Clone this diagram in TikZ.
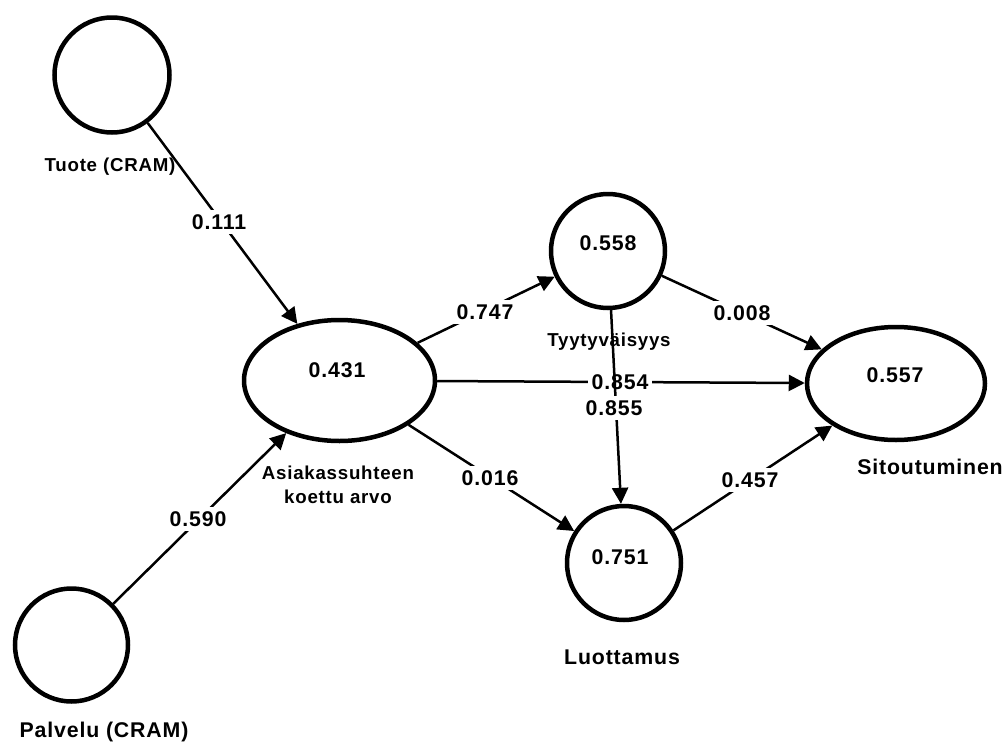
\documentclass[tikz,border=0pt]{standalone}
\usepackage{fontspec}
\setmainfont{Liberation Sans}[LetterSpace=4]
\usetikzlibrary{arrows.meta,shapes.geometric}
\tikzset{
  lv/.style={draw, line width=4.5pt, ellipse, inner sep=0pt},
  bigtxt/.style={font=\bfseries\fontsize{21.3}{24}\selectfont, inner sep=0pt, align=center},
  smalltxt/.style={font=\bfseries\fontsize{18.7}{24}\selectfont, inner sep=0pt, align=center},
  conn/.style={line width=2.5pt, -{Triangle[length=16pt,width=16pt]}},
  wlbl/.style={font=\bfseries\fontsize{21.3}{24}\selectfont, fill=white, inner sep=4pt}
}
\begin{document}
\begin{tikzpicture}[x=1pt,y=-1pt]
\useasboundingbox (0,0) rectangle (1005,742);
% latent variables
\node[lv, minimum width=115pt, minimum height=115pt] (tuo) at (112,75) {};
\node[lv, minimum width=113pt, minimum height=113pt] (pal) at (71.5,645) {};
\node[lv, minimum width=191pt, minimum height=121pt] (asi) at (339.5,380.5) {};
\node[lv, minimum width=114pt, minimum height=114pt] (tyy) at (608,251) {};
\node[lv, minimum width=114pt, minimum height=114pt] (luo) at (624,563) {};
\node[lv, minimum width=178pt, minimum height=113pt] (sit) at (896,383.5) {};
% values inside
\node[bigtxt] (vasi) at (337,370) {0.431};
\node[bigtxt] (vtyy) at (608,243) {0.558};
\node[bigtxt] (vluo) at (620,557) {0.751};
\node[bigtxt] (vsit) at (895,375) {0.557};
% names
\node[smalltxt] (ntuo) at (110,167) {Tuote (CRAM)};
\node[bigtxt] (npal) at (104,732) {Palvelu (CRAM)};
\node[smalltxt] (nasi) at (338,485) {Asiakassuhteen\\koettu arvo};
\node[smalltxt] (ntyy) at (609,342) {Tyytyväisyys};
\node[bigtxt] (nsit) at (930,467) {Sitoutuminen};
\node[bigtxt] (nluo) at (622,657) {Luottamus};
% connectors
\draw[conn] (tuo) -- (asi);
\node[wlbl] (l1) at (219,222) {0.111};
\draw[conn] (pal) -- (asi);
\node[wlbl] (l2) at (198,519) {0.590};
\draw[conn] (asi) -- (tyy);
\node[wlbl] (l3) at (485,312) {0.747};
\draw[conn] (asi) -- (luo);
\node[wlbl] (l5) at (490,478) {0.016};
\draw[conn] (tyy) -- (sit);
\node[wlbl] (l7) at (742,313) {0.008};
\draw[conn] (luo) -- (sit);
\node[wlbl] (l8) at (750,480) {0.457};
\draw[conn] (asi) -- (sit);
\node[wlbl] (l4) at (620,382) {0.854};
\draw[conn] (tyy) -- (luo);
\node[wlbl] (l6) at (614,408) {0.855};
\end{tikzpicture}
\end{document}
